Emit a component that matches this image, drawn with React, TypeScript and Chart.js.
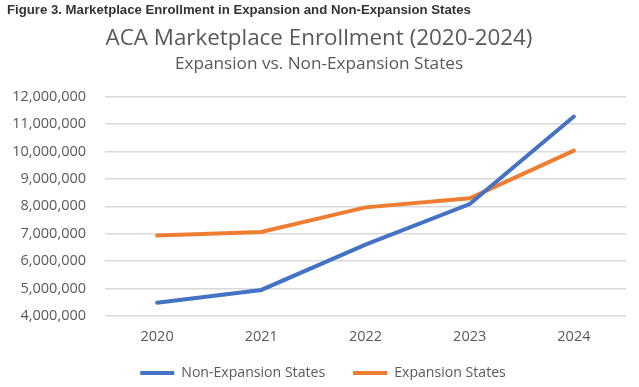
import React, { useEffect, useRef } from "react";
import { Chart, registerables } from "chart.js";

Chart.register(...registerables);

const figureTitle = "Figure 3. Marketplace Enrollment in Expansion and Non-Expansion States";
const chartTitle = "ACA Marketplace Enrollment (2020-2024)";
const chartSubtitle = "Expansion vs. Non-Expansion States";
const years = ["2020", "2021", "2022", "2023", "2024"];
const nonExpansion = [4480000, 4950000, 6600000, 8080000, 11270000];
const expansion = [6930000, 7060000, 7960000, 8290000, 10030000];
const yMin = 4000000;
const yMax = 12000000;
const yStep = 1000000;

const legendShift = {
  id: "legendShift",
  afterLayout(chart: any) {
    const l = chart.legend;
    if (l) {
      l.top -= 7;
      l.bottom -= 7;
      l.left += 4;
      l.right += 4;
    }
  },
};

export default function App() {
  const ref = useRef<HTMLCanvasElement | null>(null);

  useEffect(() => {
    document.body.style.margin = "0";
    const ctx = ref.current;
    if (!ctx) return;
    const gray = "#595959";
    const chart = new Chart(ctx, {
      type: "line",
      data: {
        labels: years,
        datasets: [
          {
            label: "Non-Expansion States",
            data: nonExpansion,
            borderColor: "#4472C4",
            backgroundColor: "#4472C4",
            borderWidth: 4,
            pointRadius: 0,
            pointStyle: "line",
            tension: 0,
            borderCapStyle: "round",
          },
          {
            label: "Expansion States",
            data: expansion,
            borderColor: "#ED7D31",
            backgroundColor: "#ED7D31",
            borderWidth: 4,
            pointRadius: 0,
            pointStyle: "line",
            tension: 0,
            borderCapStyle: "round",
          },
        ],
      },
      plugins: [legendShift],
      options: {
        animation: false,
        responsive: false,
        maintainAspectRatio: false,
        layout: { padding: { top: 0, right: 13, bottom: 0, left: 12 } },
        plugins: {
          title: {
            display: true,
            text: chartTitle,
            color: gray,
            font: { family: "Open Sans", size: 22.4, weight: "normal" },
            padding: { top: 25, bottom: 0 },
          },
          subtitle: {
            display: true,
            text: chartSubtitle,
            color: gray,
            font: { family: "Open Sans", size: 17.2, weight: "normal" },
            padding: { top: 2, bottom: 22 },
          },
          legend: {
            position: "bottom",
            maxHeight: 42,
            labels: {
              usePointStyle: true,
              pointStyleWidth: 34,
              color: gray,
              font: { family: "Open Sans", size: 14.1 },
              padding: 28,
            },
          },
          tooltip: { enabled: false },
        },
        scales: {
          x: {
            offset: true,
            grid: { display: false, drawTicks: false },
            border: { display: false },
            ticks: {
              color: gray,
              font: { family: "Open Sans", size: 14.5 },
              padding: 12,
            },
            afterFit: (s: any) => {
              s.height = 29;
            },
          },
          y: {
            min: yMin,
            max: yMax,
            grid: { color: "#D9D9D9", lineWidth: 1.5, drawTicks: false },
            border: { display: false },
            ticks: {
              stepSize: yStep,
              color: gray,
              font: { family: "Open Sans", size: 14.5 },
              padding: 19,
              callback: (v: any) => Number(v).toLocaleString("en-US"),
            },
            afterFit: (s: any) => {
              s.width = 93;
            },
          },
        },
      },
    });
    return () => chart.destroy();
  }, []);

  return (
    <div style={{ position: "relative", width: 639, height: 387, background: "#fff" }}>
      <div
        style={{
          position: "absolute",
          left: 7,
          top: 2,
          fontFamily: "Liberation Sans, Arial, sans-serif",
          fontWeight: "bold",
          fontSize: 13.2,
          color: "#333333",
          whiteSpace: "nowrap",
        }}
      >
        {figureTitle}
      </div>
      <canvas ref={ref} width={639} height={387} style={{ display: "block" }} />
    </div>
  );
}
